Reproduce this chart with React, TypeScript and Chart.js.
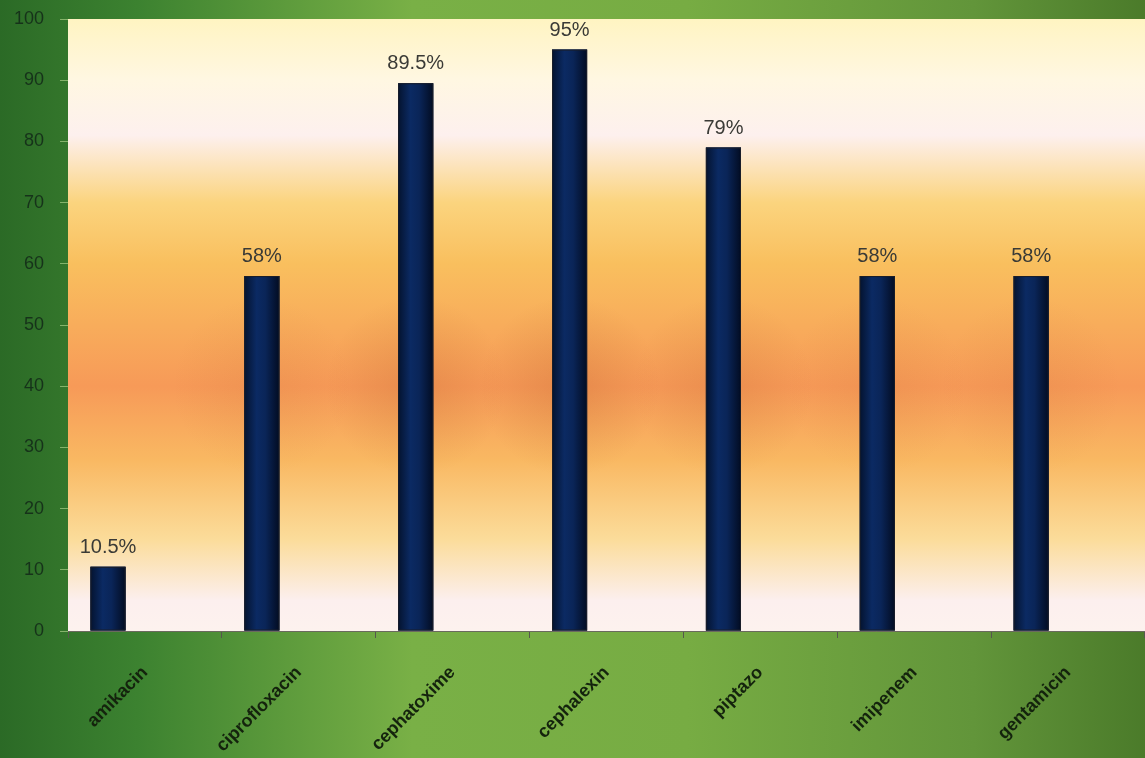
import React, { useEffect, useRef } from 'react';
import { Chart, registerables } from 'chart.js';

Chart.register(...registerables);

const categories = ['amikacin', 'ciprofloxacin', 'cephatoxime', 'cephalexin', 'piptazo', 'imipenem', 'gentamicin'];
const resistance = [10.5, 58, 89.5, 95, 79, 58, 58];
const valueLabels = ['10.5%', '58%', '89.5%', '95%', '79%', '58%', '58%'];
const emptySeriesA = [null, null, null, null, null, null, null];
const emptySeriesB = [null, null, null, null, null, null, null];
const yMin = 0;
const yMax = 100;
const yStep = 10;

const FONT = "'Liberation Sans', Arial, sans-serif";

const backgroundPlugin = {
  id: 'bgPaint',
  beforeDraw(chart: any) {
    const { ctx, width, height, chartArea } = chart;
    ctx.save();
    const g = ctx.createLinearGradient(0, 0, width, 0);
    g.addColorStop(0, '#2b6a26');
    g.addColorStop(0.12, '#3c8230');
    g.addColorStop(0.36, '#79b046');
    g.addColorStop(0.6, '#77ac43');
    g.addColorStop(0.85, '#62953a');
    g.addColorStop(1, '#4b7b2a');
    ctx.fillStyle = g;
    ctx.fillRect(0, 0, width, height);

    const { left, top, right, bottom } = chartArea;
    const h = bottom - top;
    const v = ctx.createLinearGradient(0, top, 0, bottom);
    v.addColorStop(0, '#fff4c2');
    v.addColorStop(0.1, '#fff7e2');
    v.addColorStop(0.19, '#fdf0ee');
    v.addColorStop(0.3, '#fbd47e');
    v.addColorStop(0.4, '#f9bf5e');
    v.addColorStop(0.6, '#f79a58');
    v.addColorStop(0.72, '#f9b862');
    v.addColorStop(0.85, '#fbdc9a');
    v.addColorStop(0.95, '#fcefee');
    v.addColorStop(1, '#fdf2ee');
    ctx.fillStyle = v;
    ctx.fillRect(left, top, right - left, h);

    const meta = chart.getDatasetMeta(0);
    ctx.beginPath();
    ctx.rect(left, top, right - left, h);
    ctx.clip();
    meta.data.forEach((el: any) => {
      const cy = top + h * 0.6;
      const strength = Math.max(0, (el.base - el.y) / h - 0.3);
      const r = 90;
      const rg = ctx.createRadialGradient(el.x, cy, 0, el.x, cy, r);
      rg.addColorStop(0, `rgba(170,80,30,${0.35 * strength})`);
      rg.addColorStop(1, 'rgba(170,80,30,0)');
      ctx.fillStyle = rg;
      ctx.fillRect(el.x - r, cy - r * 1.6, r * 2, r * 3.2);
    });
    ctx.restore();
  },
};

const barShadePlugin = {
  id: 'barShade',
  afterDatasetsDraw(chart: any) {
    const { ctx } = chart;
    const meta = chart.getDatasetMeta(0);
    ctx.save();
    meta.data.forEach((el: any) => {
      const x0 = el.x - el.width / 2;
      const x1 = el.x + el.width / 2;
      const g = ctx.createLinearGradient(x0, 0, x1, 0);
      g.addColorStop(0, '#04132f');
      g.addColorStop(0.35, '#0b2a63');
      g.addColorStop(0.6, '#0a2558');
      g.addColorStop(1, '#020c22');
      ctx.fillStyle = g;
      ctx.fillRect(x0, el.y, x1 - x0, el.base - el.y);
      ctx.strokeStyle = '#1a1e2a';
      ctx.lineWidth = 1;
      ctx.strokeRect(x0 + 0.5, el.y + 0.5, x1 - x0 - 1, el.base - el.y - 1);
    });
    ctx.fillStyle = '#3a3a36';
    ctx.font = `20px ${FONT}`;
    ctx.textAlign = 'center';
    ctx.textBaseline = 'alphabetic';
    meta.data.forEach((el: any, i: number) => {
      ctx.fillText(valueLabels[i], el.x, el.y - 14);
    });
    ctx.restore();
  },
};

export default function App() {
  const ref = useRef<HTMLCanvasElement | null>(null);
  useEffect(() => {
    if (!ref.current) return;
    const ds = { backgroundColor: '#0b214f', categoryPercentage: 0.72, barPercentage: 0.95 };
    const chart = new Chart(ref.current, {
      type: 'bar',
      data: {
        labels: categories,
        datasets: [
          { data: resistance, ...ds },
          { data: emptySeriesA, ...ds },
          { data: emptySeriesB, ...ds },
        ],
      },
      options: {
        animation: false,
        responsive: false,
        layout: { padding: { top: 0, left: 0, right: 0, bottom: 0 } },
        plugins: { legend: { display: false }, tooltip: { enabled: false } },
        scales: {
          x: {
            grid: { display: true, drawOnChartArea: false, tickLength: 7, color: '#55584c', offset: true },
            border: { display: true, color: '#6a6a5e' },
            ticks: {
              minRotation: 45,
              maxRotation: 45,
              autoSkip: false,
              padding: 24,
              color: '#14230d',
              font: { family: FONT, size: 18, weight: 'bold' },
            },
            afterFit: (s: any) => { s.height = 127; s.paddingLeft = 0; s.paddingRight = 0; s.paddingTop = 0; },
          },
          y: {
            min: yMin,
            max: yMax,
            ticks: {
              stepSize: yStep,
              padding: 16,
              color: '#16321a',
              font: { family: FONT, size: 18 },
            },
            grid: { display: true, drawOnChartArea: false, tickLength: 8, color: 'rgba(200,230,160,0.55)' },
            border: { display: false },
            afterFit: (s: any) => { s.width = 68; s.paddingTop = 19; s.paddingBottom = 0; },
          },
        },
      } as any,
      plugins: [backgroundPlugin, barShadePlugin],
    });
    return () => chart.destroy();
  }, []);
  return (
    <div style={{ position: 'fixed', left: 0, top: 0, width: 1145, height: 758 }}>
      <canvas ref={ref} width={1145} height={758} style={{ display: 'block' }} />
    </div>
  );
}
